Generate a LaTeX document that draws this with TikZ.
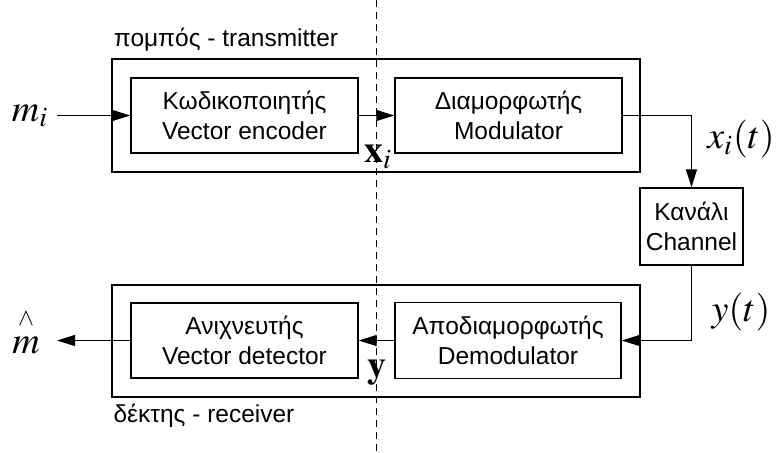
\documentclass[tikz,border=0pt]{standalone}
\usepackage{mathptmx}
\usepackage{fontspec}
\setmainfont{Liberation Sans}
\usetikzlibrary{arrows.meta}
\begin{document}
\begin{tikzpicture}[x=0.5pt,y=-0.5pt,
  box/.style={draw,line width=0.7pt,inner sep=0pt,align=center,
    font=\fontsize{12.25}{15}\selectfont},
  outer/.style={draw,line width=0.7pt,inner sep=0pt},
  arr/.style={line width=0.6pt,-{Triangle[length=9pt,width=5.5pt]}},
  lbl/.style={font=\fontsize{12.25}{15}\selectfont,inner sep=0pt},
  mlbl/.style={font=\fontsize{19}{21}\selectfont,inner sep=0pt}]
\useasboundingbox (0,0) rectangle (777,452);
\node[outer,minimum width=264pt,minimum height=56.5pt] (tx) at (376,115.5) {};
\node[outer,minimum width=264pt,minimum height=56pt] (rx) at (376,341) {};
\node[box,minimum width=113.5pt,minimum height=37.5pt] (enc) at (244.5,115.5) {Κωδικοποιητής\\Vector encoder};
\node[box,minimum width=113.5pt,minimum height=37.5pt] (mod) at (508.5,115.5) {Διαμορφωτής\\Modulator};
\node[box,minimum width=51.5pt,minimum height=38.5pt] (chan) at (691.5,226.5) {Κανάλι\\Channel};
\node[box,minimum width=113.5pt,minimum height=37.5pt] (det) at (244.5,340.5) {Ανιχνευτής\\Vector detector};
\node[box,minimum width=113pt,minimum height=38pt] (dem) at (508,340.5) {Αποδιαμορφωτής\\Demodulator};
\coordinate (min) at (57,115.5);
\coordinate (mout) at (57,340.5);
\draw[arr] (min) -- (enc);
\draw[arr] (enc) -- (mod);
\draw[arr] (mod.east) -| (chan.north);
\draw[arr] (chan.south) |- (dem.east);
\draw[arr] (dem) -- (det);
\draw[arr] (det) -- (mout);
\node[lbl] (tl) at (226,40) {πομπός - transmitter};
\node[lbl] (rl) at (204,416) {δέκτης - receiver};
\node[mlbl] (mi) at (30,116) {$m_i$};
\node[mlbl,align=center] (mh) at (26,333) {{\fontsize{12}{12}\selectfont$\wedge$}\\[-7pt]$m$};
\node[mlbl] (xi) at (378,157) {$\mathbf{x}_i$};
\node[mlbl] (yv) at (377,372) {$\mathbf{y}$};
\node[mlbl] (xt) at (741,139) {$x_i(t)$};
\node[mlbl] (yt) at (741,312) {$y(t)$};
\draw[line width=0.5pt,dash pattern=on 3.5pt off 2.5pt] (376,0) coordinate (dtop) -- (376,452) coordinate (dbot);
\end{tikzpicture}
\end{document}
